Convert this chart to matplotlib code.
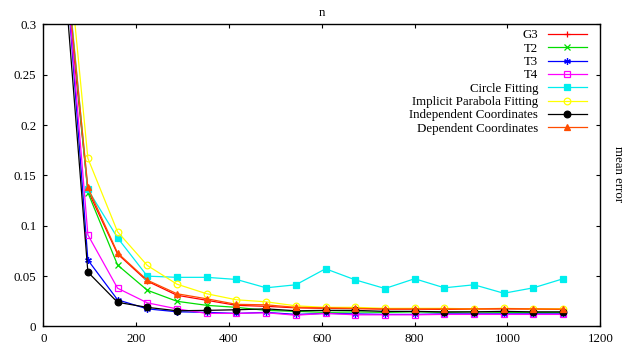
import matplotlib
matplotlib.use('Agg')
import numpy as np
from matplotlib import pyplot as plt

plt.rcParams['font.family'] = ['Liberation Serif', 'DejaVu Serif']
plt.rcParams['font.size'] = 9.3

# sample sizes
n = [32, 96, 160, 224, 288, 352, 416, 480, 544, 608, 672, 736, 800, 864, 928, 992, 1056, 1120]

g3 = [0.420, 0.135, 0.072, 0.045, 0.031, 0.026, 0.021, 0.020, 0.0185, 0.018, 0.0178,
      0.0172, 0.0172, 0.017, 0.0172, 0.0175, 0.0172, 0.017]
t2 = [0.438, 0.133, 0.061, 0.036, 0.025, 0.021, 0.019, 0.016, 0.015, 0.014, 0.0145,
      0.014, 0.0145, 0.014, 0.0145, 0.014, 0.014, 0.014]
t3 = [0.460, 0.066, 0.0265, 0.0175, 0.0146, 0.014, 0.013, 0.014, 0.012, 0.013, 0.0125,
      0.012, 0.012, 0.0125, 0.0125, 0.0125, 0.0125, 0.0125]
t4 = [0.450, 0.091, 0.038, 0.0235, 0.0175, 0.013, 0.013, 0.0136, 0.0112, 0.013, 0.0116,
      0.0116, 0.0116, 0.012, 0.012, 0.012, 0.012, 0.012]
circle = [0.445, 0.136, 0.088, 0.050, 0.0488, 0.0488, 0.0467, 0.0384, 0.0414, 0.0573, 0.0463,
          0.0377, 0.0474, 0.0384, 0.0414, 0.033, 0.0384, 0.0474]
parabola = [0.474, 0.167, 0.094, 0.0606, 0.042, 0.0325, 0.0265, 0.0245, 0.0205, 0.019, 0.019,
            0.018, 0.018, 0.018, 0.0175, 0.018, 0.0175, 0.0175]
indep = [0.428, 0.054, 0.024, 0.019, 0.0156, 0.016, 0.0166, 0.0175, 0.0156, 0.016, 0.016,
         0.015, 0.015, 0.0145, 0.0145, 0.015, 0.0145, 0.0145]
dep = [0.438, 0.138, 0.073, 0.046, 0.0325, 0.0275, 0.022, 0.0215, 0.019, 0.0185, 0.018,
       0.0175, 0.0175, 0.0175, 0.0175, 0.0178, 0.0175, 0.0172]

series = [
    ('G3', g3, '#ff0000', '+', 'full'),
    ('T2', t2, '#00dd00', 'x', 'full'),
    ('T3', t3, '#0000ff', (6, 2, 0), 'full'),
    ('T4', t4, '#ff00ff', 's', 'none'),
    ('Circle Fitting', circle, '#00eeee', 's', 'full'),
    ('Implicit Parabola Fitting', parabola, '#ffff00', 'o', 'none'),
    ('Independent Coordinates', indep, '#000000', 'o', 'full'),
    ('Dependent Coordinates', dep, '#ff4d00', '^', 'full'),
]

fig = plt.figure(figsize=(6.34, 3.49), dpi=100)
ax = fig.add_axes([0.0683, 0.0645, 0.8786, 0.8659])

for label, y, c, m, fs in series:
    ax.plot(n, y, color=c, lw=0.9, marker=m, markersize=4.8, fillstyle=fs,
            markeredgewidth=0.9, label=label)

ax.set_xlim(0, 1200)
ax.set_ylim(0, 0.3)
ax.set_xticks([0, 200, 400, 600, 800, 1000, 1200])
ax.set_yticks([0, 0.05, 0.1, 0.15, 0.2, 0.25, 0.3])
ax.set_yticklabels(['0', '0.05', '0.1', '0.15', '0.2', '0.25', '0.3'])
ax.tick_params(direction='in', top=True, right=True, length=3, width=0.8, pad=5)
for s in ax.spines.values():
    s.set_linewidth(1.0)

ax.set_title('n', fontsize=9.3, pad=6)
fig.text(0.974, 0.5, 'mean error', rotation=270, ha='center', va='center')

leg = ax.legend(loc='upper right', frameon=False, markerfirst=False, handlelength=3.0,
                labelspacing=0.1, handletextpad=0.75, borderaxespad=0.0,
                bbox_to_anchor=(0.985, 1.0))

fig.savefig('out.png', dpi=100)
